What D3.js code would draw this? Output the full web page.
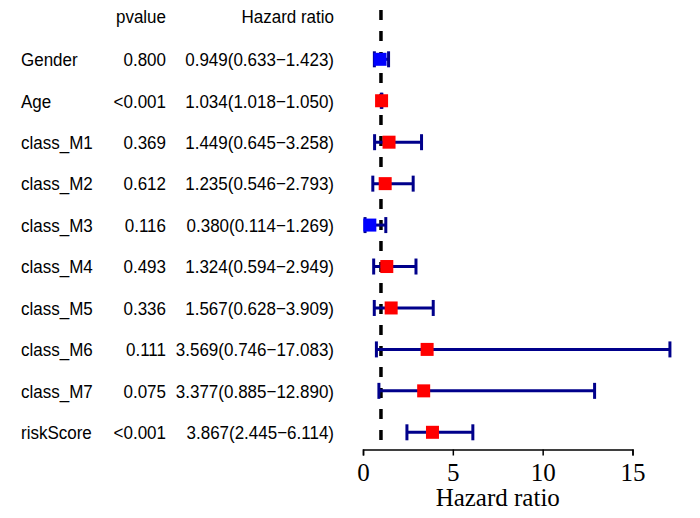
<!DOCTYPE html>
<html>
<head>
<meta charset="utf-8">
<script src="https://cdn.jsdelivr.net/npm/d3@7"></script>
<style>
  body { margin: 0; background: #fff; }
  svg { display: block; }
  .lbl { font-family: "Liberation Sans", Arial, sans-serif; font-size: 17px; fill: #000; }
  .axis text { font-family: "Liberation Serif", "Times New Roman", serif; font-size: 25px; fill: #000; }
</style>
</head>
<body>
<svg id="forest" width="700" height="518"></svg>
<script>
const names = ['Gender', 'Age', 'class_M1', 'class_M2', 'class_M3', 'class_M4', 'class_M5', 'class_M6', 'class_M7', 'riskScore'];
const pvals = ['0.800', '<0.001', '0.369', '0.612', '0.116', '0.493', '0.336', '0.111', '0.075', '<0.001'];
const hr = [0.949, 1.034, 1.449, 1.235, 0.380, 1.324, 1.567, 3.569, 3.377, 3.867];
const hrLow = [0.633, 1.018, 0.645, 0.546, 0.114, 0.594, 0.628, 0.746, 0.885, 2.445];
const hrHigh = [1.423, 1.050, 3.258, 2.793, 1.269, 2.949, 3.909, 17.083, 12.890, 6.114];
const hrTicks = [0, 5, 10, 15];

const svg = d3.select('#forest');
svg.append('rect').attr('width', 700).attr('height', 518).attr('fill', 'white');

const x = d3.scaleLinear().domain([0, 15]).range([363, 632.5]);
const y = d3.scalePoint().domain(names).range([59.3, 432.3]);

var rows = names.map(function(n, i) {
  return {name: n, p: pvals[i], hr: hr[i], lo: hrLow[i], hi: hrHigh[i]};
});

// the text in the picture is a bit taller than wide, so stretch it a little
function place(xv, yv) { return 'translate(' + xv + ',' + yv + ') scale(1,1.09)'; }

// header
svg.append('text').attr('class', 'lbl').attr('transform', place(166, 23)).attr('text-anchor', 'end').text('pvalue');
svg.append('text').attr('class', 'lbl').attr('transform', place(334, 23)).attr('text-anchor', 'end').text('Hazard ratio');

// table columns
svg.selectAll('.name').data(rows).enter().append('text')
  .attr('class', 'lbl name').attr('transform', d => place(21, y(d.name) + 6.8))
  .text(d => d.name);
svg.selectAll('.pv').data(rows).enter().append('text')
  .attr('class', 'lbl pv').attr('transform', d => place(166, y(d.name) + 6.8)).attr('text-anchor', 'end')
  .text(d => d.p);
svg.selectAll('.hrt').data(rows).enter().append('text')
  .attr('class', 'lbl hrt').attr('transform', d => place(334, y(d.name) + 6.8)).attr('text-anchor', 'end')
  .text(d => d.hr.toFixed(3) + '(' + d.lo.toFixed(3) + '\u2212' + d.hi.toFixed(3) + ')');

// reference line at HR = 1
svg.append('line').attr('x1', x(1)).attr('x2', x(1)).attr('y1', 10).attr('y2', 449)
  .attr('stroke', 'black').attr('stroke-width', 3.5).attr('stroke-dasharray', '10,11');

// confidence intervals
const ci = svg.append('g').attr('stroke', '#00008B').attr('stroke-width', 3);
ci.selectAll('.bar').data(rows).enter().append('line')
  .attr('x1', d => x(d.lo)).attr('x2', d => x(d.hi))
  .attr('y1', d => y(d.name)).attr('y2', d => y(d.name));
ci.selectAll('.capl').data(rows).enter().append('line')
  .attr('x1', d => x(d.lo)).attr('x2', d => x(d.lo))
  .attr('y1', d => y(d.name) - 8).attr('y2', d => y(d.name) + 8);
ci.selectAll('.caph').data(rows).enter().append('line')
  .attr('x1', d => x(d.hi)).attr('x2', d => x(d.hi))
  .attr('y1', d => y(d.name) - 8).attr('y2', d => y(d.name) + 8);

// point estimates
svg.selectAll('.pt').data(rows).enter().append('rect')
  .attr('x', d => x(d.hr) - 6.5).attr('y', d => y(d.name) - 6.5)
  .attr('width', 13).attr('height', 13)
  .attr('fill', d => d.hr > 1 ? 'red' : 'blue');

// x axis
const ax = svg.append('g').attr('class', 'axis').attr('transform', 'translate(0,449.5)')
  .call(d3.axisBottom(x).tickValues(hrTicks).tickSize(6).tickPadding(8));
ax.select('.domain').attr('stroke-width', 1.5);
ax.selectAll('.tick line').attr('stroke-width', 1.5);
ax.selectAll('.tick text').attr('dy', '0.71em');

svg.append('text').attr('x', x(7.5)).attr('y', 506).attr('text-anchor', 'middle')
  .style('font-family', '"Liberation Serif", "Times New Roman", serif').style('font-size', '25px')
  .text('Hazard ratio');
</script>
</body>
</html>
